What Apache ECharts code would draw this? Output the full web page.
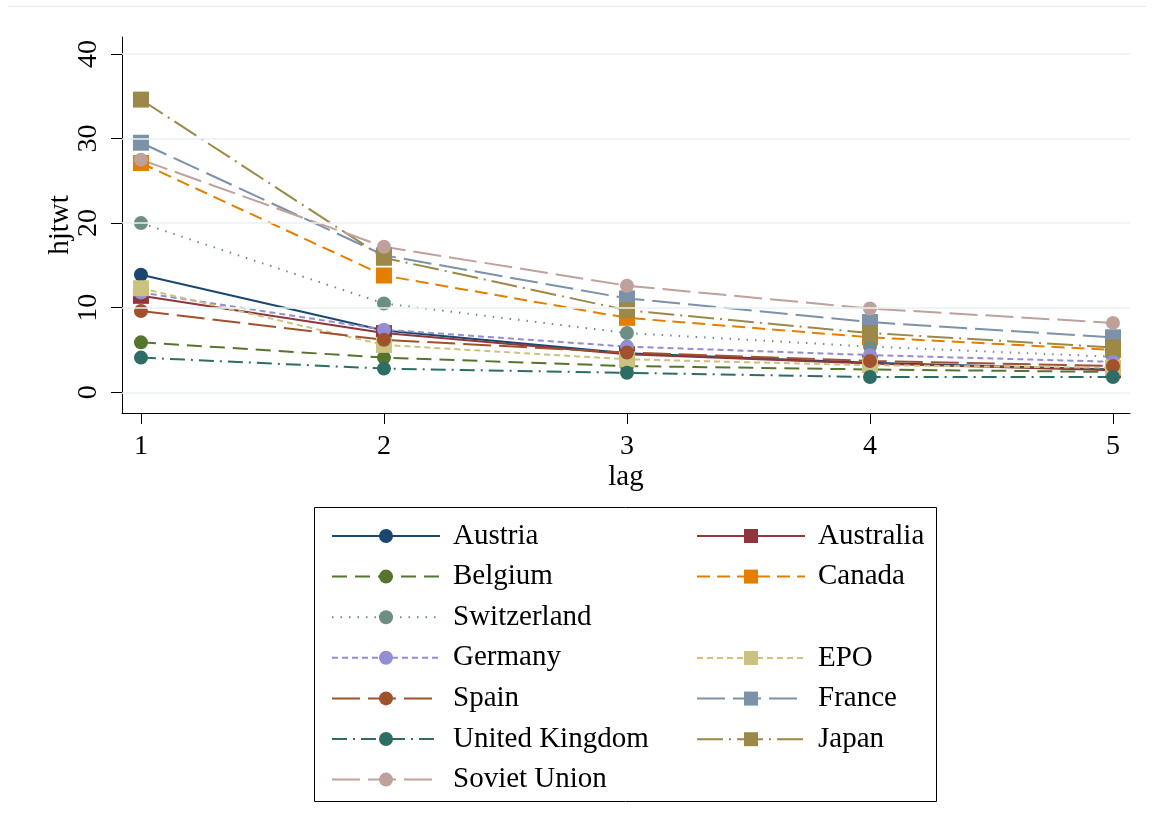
<!DOCTYPE html>
<html>
<head>
<meta charset="utf-8">
<script src="https://cdn.jsdelivr.net/npm/echarts@6/dist/echarts.min.js"></script>
<style>
html,body{margin:0;padding:0;background:#fff;}
#chart{width:1154px;height:837px;}
</style>
</head>
<body>
<div id="chart"></div>
<script>
// ---- data ----
const lags = [1, 2, 3, 4, 5];
const yTicks = [0, 10, 20, 30, 40];
const austria     = [13.9, 7.3, 4.6, 3.5, 2.7];
const australia   = [11.4, 7.0, 4.5, 3.4, 2.6];
const belgium     = [5.9, 4.1, 3.1, 2.7, 2.4];
const canada      = [27.1, 13.8, 8.8, 6.5, 5.0];
const switzerland = [20.0, 10.5, 7.0, 5.4, 4.2];
const germany     = [11.8, 7.4, 5.4, 4.4, 3.6];
const epo         = [12.3, 5.6, 3.9, 3.2, 2.9];
const spain       = [9.6, 6.2, 4.7, 3.7, 3.1];
const france      = [29.5, 16.2, 11.1, 8.3, 6.5];
const uk          = [4.1, 2.8, 2.3, 1.8, 1.8];
const japan       = [34.6, 15.9, 9.7, 7.0, 5.3];
const soviet      = [27.5, 17.2, 12.6, 9.9, 8.2];

const seriesDefs = [
  {name: 'Austria', data: austria, color: '#1a476f', symbol: 'circle', dash: 'solid'},
  {name: 'Australia', data: australia, color: '#90353b', symbol: 'rect', dash: 'solid'},
  {name: 'Belgium', data: belgium, color: '#55752f', symbol: 'circle', dash: [15, 8]},
  {name: 'Canada', data: canada, color: '#e37e00', symbol: 'rect', dash: [13, 7]},
  {name: 'Switzerland', data: switzerland, color: '#6e8e84', symbol: 'circle', dash: [1.5, 7]},
  {name: 'Germany', data: germany, color: '#938dd2', symbol: 'circle', dash: [6, 4]},
  {name: 'EPO', data: epo, color: '#cac27e', symbol: 'rect', dash: [6, 4]},
  {name: 'Spain', data: spain, color: '#a0522d', symbol: 'circle', dash: [28, 8]},
  {name: 'France', data: france, color: '#7b92a8', symbol: 'rect', dash: [28, 8]},
  {name: 'United Kingdom', data: uk, color: '#2d6d66', symbol: 'circle', dash: [15, 6, 2, 6]},
  {name: 'Japan', data: japan, color: '#9c8847', symbol: 'rect', dash: [26, 6, 2, 6]},
  {name: 'Soviet Union', data: soviet, color: '#bfa19c', symbol: 'circle', dash: [28, 8]}
];

const FONT = '"Liberation Serif", "Times New Roman", serif';

const series = seriesDefs.map(d => ({
  name: d.name,
  type: 'line',
  data: lags.map((x, i) => [x, d.data[i]]),
  symbol: d.symbol,
  symbolSize: d.symbol === 'rect' ? 16 : 14,
  showSymbol: true,
  itemStyle: {color: d.color},
  lineStyle: {color: d.color, width: 2, type: d.dash},
  emphasis: {disabled: true},
  animation: false
}));

// gridlines
series.push({
  type: 'line', data: [], silent: true, z: 0,
  markLine: {
    silent: true, symbol: 'none', animation: false,
    label: {show: false},
    lineStyle: {color: '#eaf2f3', width: 1.5, type: 'solid'},
    data: yTicks.map(v => ({yAxis: v}))
  }
});

const legendCommon = {
  orient: 'vertical',
  itemWidth: 108,
  itemHeight: 17.5,
  itemGap: 11.6,
  textStyle: {fontFamily: FONT, fontSize: 29, color: '#000', padding: [0, 0, 0, 8], lineHeight: 29},
  selectedMode: false
};

const chart = echarts.init(document.getElementById('chart'));
chart.setOption({
  animation: false,
  backgroundColor: '#fff',
  grid: {left: 122, right: 24, top: 37, bottom: 837 - 413, containLabel: false},
  xAxis: {
    type: 'value', min: 0.922, max: 5.07,
    name: 'lag', nameLocation: 'middle', nameGap: 50,
    nameTextStyle: {fontFamily: FONT, fontSize: 29, color: '#000'},
    axisLine: {show: true, onZero: false, lineStyle: {color: '#000', width: 1}},
    axisTick: {show: true, length: 11, lineStyle: {color: '#000'}, customValues: lags},
    axisLabel: {fontFamily: FONT, fontSize: 28, color: '#000', margin: 20, customValues: lags},
    splitLine: {show: false}
  },
  yAxis: {
    type: 'value', min: -2.45, max: 42,
    name: 'hjtwt', nameLocation: 'middle', nameGap: 47, nameMoveOverlap: false,
    nameTextStyle: {fontFamily: FONT, fontSize: 29, color: '#000'},
    axisLine: {show: true, onZero: false, lineStyle: {color: '#000', width: 1}},
    axisTick: {show: true, length: 11, lineStyle: {color: '#000'}, customValues: yTicks},
    axisLabel: {fontFamily: FONT, fontSize: 28, color: '#000', margin: 19, rotate: 90, customValues: yTicks},
    splitLine: {show: false}
  },
  legend: [
    Object.assign({}, legendCommon, {left: 326, top: 516.5, data: ['Austria', 'Belgium', 'Switzerland', 'Germany', 'Spain', 'United Kingdom', 'Soviet Union']}),
    Object.assign({}, legendCommon, {left: 691, top: 516.5, data: ['Australia', 'Canada']}),
    Object.assign({}, legendCommon, {left: 691, top: 638.5, data: ['EPO', 'France', 'Japan']})
  ],
  graphic: [
    {type: 'rect', shape: {x: 314.5, y: 507.5, width: 622, height: 294}, style: {fill: 'none', stroke: '#000', lineWidth: 1}, silent: true},
    {type: 'line', shape: {x1: 8, y1: 6.5, x2: 1146, y2: 6.5}, style: {stroke: '#e6ecee', lineWidth: 1}, silent: true}
  ],
  series: series
});
</script>
</body>
</html>
